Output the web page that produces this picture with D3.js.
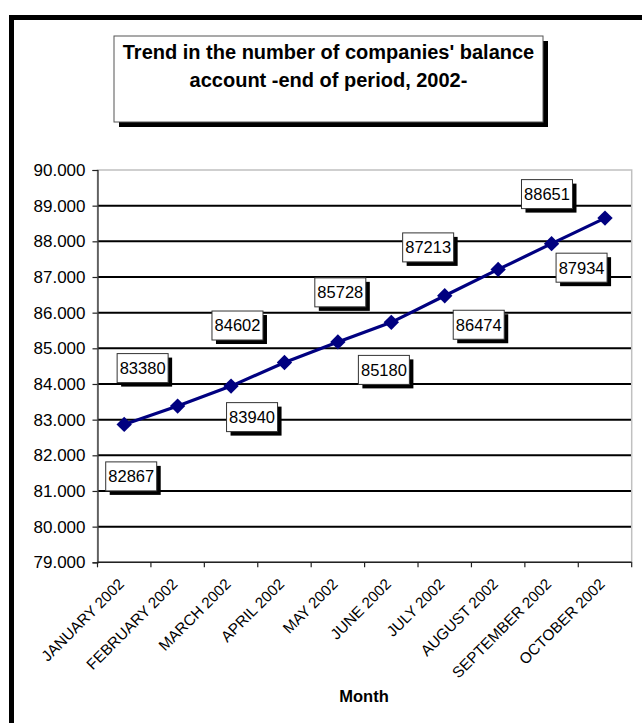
<!DOCTYPE html>
<html>
<head>
<meta charset="utf-8">
<script src="https://cdn.jsdelivr.net/npm/d3@7"></script>
<style>
  html, body { margin: 0; padding: 0; background: #ffffff; }
  svg { display: block; font-family: "Liberation Sans", Arial, sans-serif; }
</style>
</head>
<body>
<svg id="chart" width="642" height="723"></svg>
<script>
// ---- data ----
const months = ["JANUARY 2002", "FEBRUARY 2002", "MARCH 2002", "APRIL 2002", "MAY 2002",
                "JUNE 2002", "JULY 2002", "AUGUST 2002", "SEPTEMBER 2002", "OCTOBER 2002"];
const companies = [82867, 83380, 83940, 84602, 85180, 85728, 86474, 87213, 87934, 88651];
const yTicks = [79000, 80000, 81000, 82000, 83000, 84000, 85000, 86000, 87000, 88000, 89000, 90000];
const titleLines = ["Trend in the number of companies' balance", "account -end of period, 2002-"];
const xTitle = "Month";

// ---- layout (label box nudges, in pixels, relative to each point) ----
const labelNudge = [[7, 52], [-35, -38], [21, 31], [-47, -37], [46, 28],
                    [-51, -30], [34, 29], [-70, -22], [30, 24], [-58, -24]];

const svg = d3.select("#chart");
const plot = { left: 97.5, right: 631.7, top: 170, bottom: 562.3 };

// outer frame (runs off the right and bottom edges)
svg.append("rect").attr("x", 11.5).attr("y", 17.5).attr("width", 700).attr("height", 800)
  .attr("fill", "none").attr("stroke", "#000").attr("stroke-width", 5);

// title box with shadow
const tb = { x: 114, y: 36, w: 429, h: 86 };
svg.append("rect").attr("x", tb.x + 5).attr("y", tb.y + 5).attr("width", tb.w).attr("height", tb.h).attr("fill", "#000");
svg.append("rect").attr("x", tb.x).attr("y", tb.y).attr("width", tb.w).attr("height", tb.h)
  .attr("fill", "#fff").attr("stroke", "#555").attr("stroke-width", 1);
svg.append("text").attr("x", tb.x + tb.w / 2).attr("y", 59).attr("text-anchor", "middle")
  .attr("font-size", 20).attr("font-weight", "bold").attr("fill", "#000")
  .selectAll("tspan").data(titleLines).join("tspan")
  .attr("x", tb.x + tb.w / 2).attr("dy", (d, i) => i === 0 ? 0 : 28).text(d => d);

// scales
const x = d3.scaleBand().domain(months).range([plot.left, plot.right]).padding(0);
const y = d3.scaleLinear().domain([79000, 90000]).range([plot.bottom, plot.top]);

// gridlines
svg.append("g").selectAll("line").data(yTicks.filter(t => t > 79000 && t < 90000)).join("line")
  .attr("x1", plot.left).attr("x2", plot.right)
  .attr("y1", d => y(d)).attr("y2", d => y(d))
  .attr("stroke", "#000").attr("stroke-width", 2);

// plot border (gray top/right)
svg.append("rect").attr("x", plot.left).attr("y", plot.top)
  .attr("width", plot.right - plot.left).attr("height", plot.bottom - plot.top)
  .attr("fill", "none").attr("stroke", "#c0c0c0").attr("stroke-width", 1.5);

// y axis
const fmt = d => d3.format(".3f")(d / 1000);
const yAxis = svg.append("g").attr("transform", `translate(${plot.left},0)`)
  .call(d3.axisLeft(y).tickValues(yTicks).tickFormat(fmt).tickSize(5).tickPadding(7));
yAxis.select(".domain").attr("stroke", "#222").attr("stroke-width", 1.2);
yAxis.selectAll(".tick line").attr("stroke", "#222").attr("stroke-width", 1.2);
yAxis.selectAll("text").attr("font-size", 17).attr("fill", "#000")
  .attr("font-family", "Liberation Sans, Arial, sans-serif");

// x axis with ticks on category boundaries
const xAxisG = svg.append("g").attr("transform", `translate(0,${plot.bottom})`);
xAxisG.append("line").attr("x1", plot.left).attr("x2", plot.right).attr("y1", 0).attr("y2", 0)
  .attr("stroke", "#222").attr("stroke-width", 1.5);
const boundaries = months.map(m => x(m)).concat([x(months[months.length - 1]) + x.bandwidth()]);
xAxisG.selectAll("line.tk").data(boundaries).join("line").attr("class", "tk")
  .attr("x1", d => d).attr("x2", d => d).attr("y1", 0).attr("y2", 5)
  .attr("stroke", "#222").attr("stroke-width", 1.2);
xAxisG.selectAll("text").data(months).join("text")
  .attr("transform", d => `translate(${x(d) + x.bandwidth() / 2 - 3},${19}) rotate(-45)`)
  .attr("text-anchor", "end").attr("dy", "0.35em")
  .attr("font-size", 15.3).attr("fill", "#000").text(d => d);

// x title
svg.append("text").attr("x", 364).attr("y", 702).attr("text-anchor", "middle")
  .attr("font-size", 16.5).attr("font-weight", "bold").attr("fill", "#000").text(xTitle);

// series line
const cx = i => x(months[i]) + x.bandwidth() / 2;
const line = d3.line().x((d, i) => cx(i)).y(d => y(d));
svg.append("path").datum(companies).attr("d", line)
  .attr("fill", "none").attr("stroke", "#000080").attr("stroke-width", 3.2);

// diamond markers
svg.append("g").selectAll("path").data(companies).join("path")
  .attr("d", d3.symbol(d3.symbolSquare, 118)())
  .attr("transform", (d, i) => `translate(${cx(i)},${y(d)}) rotate(45)`)
  .attr("fill", "#000080");

// data labels with shadows
const lw = 51, lh = 29;
const labels = svg.append("g").selectAll("g").data(companies).join("g")
  .attr("transform", (d, i) => `translate(${cx(i) + labelNudge[i][0]},${y(d) + labelNudge[i][1]})`);
labels.append("rect").attr("x", -lw / 2 + 4).attr("y", -lh / 2 + 4).attr("width", lw).attr("height", lh).attr("fill", "#000");
labels.append("rect").attr("x", -lw / 2).attr("y", -lh / 2).attr("width", lw).attr("height", lh)
  .attr("fill", "#fff").attr("stroke", "#333").attr("stroke-width", 1);
labels.append("text").attr("text-anchor", "middle").attr("dy", "0.36em")
  .attr("font-size", 16.5).attr("fill", "#000").text(d => d);
</script>
</body>
</html>
